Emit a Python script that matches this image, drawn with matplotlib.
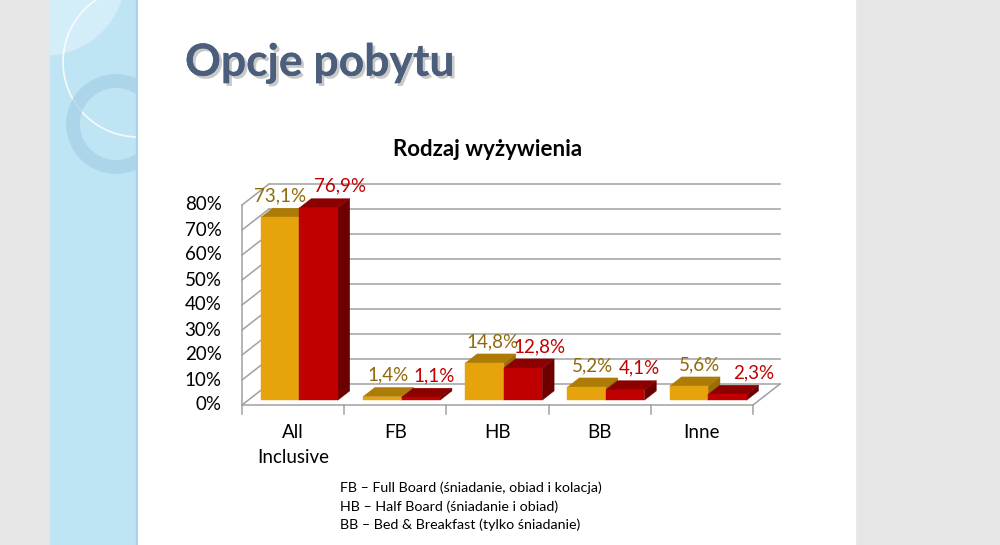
import matplotlib
matplotlib.use("Agg")
import matplotlib.pyplot as plt
import matplotlib.patches as mpatches
import matplotlib.patheffects as pe

# dane
kategorie = ["All\nInclusive", "FB", "HB", "BB", "Inne"]
seria_1 = [73.1, 1.4, 14.8, 5.2, 5.6]
seria_2 = [76.9, 1.1, 12.8, 4.1, 2.3]
etykiety_1 = ["73,1%", "1,4%", "14,8%", "5,2%", "5,6%"]
etykiety_2 = ["76,9%", "1,1%", "12,8%", "4,1%", "2,3%"]
os_y = [0, 10, 20, 30, 40, 50, 60, 70, 80]
os_y_etykiety = ["0%", "10%", "20%", "30%", "40%", "50%", "60%", "70%", "80%"]
przypisy = ["FB – Full Board (śniadanie, obiad i kolacja)",
            "HB – Half Board (śniadanie i obiad)",
            "BB – Bed & Breakfast (tylko śniadanie)"]

# przesuniecia etykiet w pikselach (jak w Excelu)
nudge_1 = [0, 6, 8, 6, 11]
nudge_2 = [21, 13, 17, 14, 26]

FONT = ["Lato", "DejaVu Sans"]
plt.rcParams["font.family"] = FONT

fig = plt.figure(figsize=(10, 5.45), dpi=100, facecolor="#e6e6e6")

# tlo slajdu
W, H = 1000, 545
def fx(px):
    return px / W
def fy(py):
    return 1 - py / H

fig.patches.append(mpatches.Rectangle((fx(138), 0), fx(855) - fx(138), 1,
                                      transform=fig.transFigure, color="white", zorder=-5))
bg = fig.add_axes([fx(50), 0, fx(138) - fx(50), 1])
bg.set_xlim(50, 138)
bg.set_ylim(545, 0)
bg.axis("off")
bg.add_patch(mpatches.Rectangle((50, 0), 88, 545, color="#bfe4f4", zorder=0))
bg.add_patch(mpatches.Circle((45, -25), 80, color="#d3edf9", zorder=1))
bg.add_patch(mpatches.Circle((138, 62), 75, fill=False, ec="white", lw=1.2, alpha=0.85, zorder=2))
bg.add_patch(mpatches.Circle((116, 124), 43, fill=False, ec="#a6cfe7", lw=10, alpha=0.7, zorder=2))
bg.add_patch(mpatches.Rectangle((135.5, 0), 2.5, 545, color="#a9d3ea", zorder=3))

# tytul slajdu
fig.text(fx(185), fy(63), "Opcje pobytu", fontsize=32, fontweight="bold", color="#4b5f7d",
         va="center", ha="left",
         path_effects=[pe.withSimplePatchShadow(offset=(2, -2), shadow_rgbFace="#7a7a7a", alpha=0.4),
                       pe.Normal()])

# wykres 3D (rzut ukosny)
ax = fig.add_axes([fx(242), fy(405), fx(753) - fx(242), fy(205) - fy(405)])
ax.set_xlim(0, 5)
ax.set_ylim(0, 80)
ax.axis("off")

DX = 27 / 102.2   # glebokosc w jednostkach kategorii
DY = 21 / 2.5     # glebokosc w procentach
f0, f1 = 0.23, 0.67
szer = 0.377
grid_c = "#a0a0a0"

for v in os_y:
    ax.plot([DX, 5 + DX], [v + DY, v + DY], color=grid_c, lw=1.1, clip_on=False, zorder=1)
    ax.plot([0, DX], [v, v + DY], color=grid_c, lw=1.1, clip_on=False, zorder=1)
ax.plot([0, 0], [0, 80], color=grid_c, lw=1.1, clip_on=False, zorder=1)
ax.plot([0, 5], [0, 0], color=grid_c, lw=1.1, clip_on=False, zorder=1)
ax.plot([5, 5 + DX], [0, DY], color=grid_c, lw=1.1, clip_on=False, zorder=1)
for i in range(len(kategorie) + 1):
    ax.plot([i, i], [0, -3.4], color=grid_c, lw=1.1, clip_on=False, zorder=1)

for v, lab in zip(os_y, os_y_etykiety):
    ax.text(-0.2, v, lab, ha="right", va="center", fontsize=13.5, color="black")
for i, k in enumerate(kategorie):
    ax.text(i + 0.5, -7.6, k, ha="center", va="top", fontsize=13.5, color="black",
            linespacing=1.55)

kolory = [
    {"front": "#e6a30b", "top": "#ad7c06", "side": "#9a6e05", "label": "#8f6a0c"},
    {"front": "#c00000", "top": "#8c0000", "side": "#6c0000", "label": "#c00000"},
]

def slupek(x0, v, c, z):
    a, b = f0 * DX, f0 * DY
    a2, b2 = f1 * DX, f1 * DY
    front = [(x0 + a, b), (x0 + szer + a, b), (x0 + szer + a, v + b), (x0 + a, v + b)]
    top = [(x0 + a, v + b), (x0 + szer + a, v + b), (x0 + szer + a2, v + b2), (x0 + a2, v + b2)]
    side = [(x0 + szer + a, b), (x0 + szer + a2, b2), (x0 + szer + a2, v + b2), (x0 + szer + a, v + b)]
    for pts, col in ((side, c["side"]), (top, c["top"]), (front, c["front"])):
        ax.add_patch(mpatches.Polygon(pts, closed=True, fc=col, ec=col, lw=0.3,
                                      clip_on=False, zorder=z))

gap = (1 - 2 * szer) / 2
serie = ((seria_1, etykiety_1, nudge_1), (seria_2, etykiety_2, nudge_2))
for i in range(len(kategorie)):
    for j, (seria, etyk, nud) in enumerate(serie):
        v = seria[i]
        x0 = i + gap + j * szer
        slupek(x0, v, kolory[j], 3 + i * 2 + j)
        ax.annotate(etyk[i], (x0 + szer / 2 + f0 * DX, v + f1 * DY),
                    xytext=(nud[i], 4), textcoords="offset pixels",
                    ha="center", va="bottom", fontsize=13.5, color=kolory[j]["label"],
                    zorder=20, annotation_clip=False)

fig.text(fx(488), fy(150), "Rodzaj wyżywienia", fontsize=16, fontweight="bold",
         ha="center", va="center", color="black")

for n, t in enumerate(przypisy):
    fig.text(fx(340), fy(488 + n * 18.5), t, fontsize=10.3, ha="left", va="center", color="black")

fig.savefig("out.png", dpi=100, facecolor=fig.get_facecolor())
